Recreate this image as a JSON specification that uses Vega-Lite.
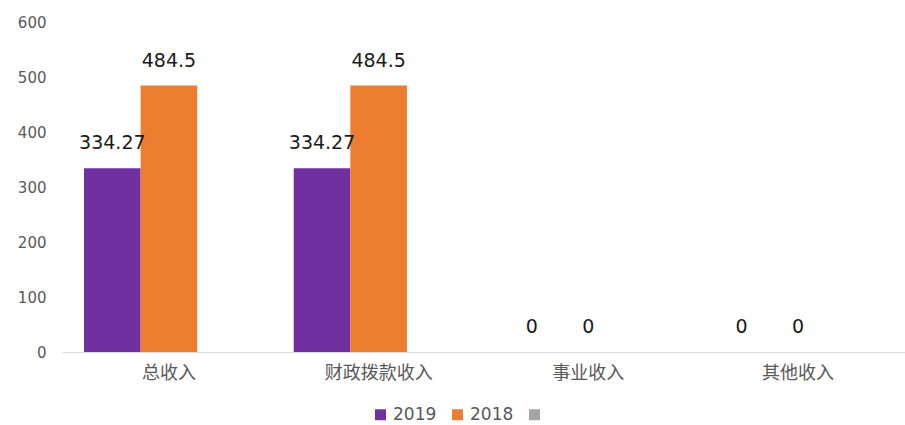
{
  "$schema": "https://vega.github.io/schema/vega-lite/v6.json",
  "autosize": "none",
  "width": 843,
  "height": 330,
  "padding": {"left": 62, "top": 22, "right": 0, "bottom": 73},
  "background": "white",
  "config": {
    "view": {"stroke": null},
    "font": "DejaVu Sans",
    "axis": {"labelFont": "DejaVu Sans, Noto Sans CJK SC", "labelColor": "#595959"}
  },
  "data": {
    "values": [
      {"category": "总收入", "year": "2019", "value": 334.27},
      {"category": "总收入", "year": "2018", "value": 484.5},
      {"category": "财政拨款收入", "year": "2019", "value": 334.27},
      {"category": "财政拨款收入", "year": "2018", "value": 484.5},
      {"category": "事业收入", "year": "2019", "value": 0},
      {"category": "事业收入", "year": "2018", "value": 0},
      {"category": "其他收入", "year": "2019", "value": 0},
      {"category": "其他收入", "year": "2018", "value": 0}
    ]
  },
  "encoding": {
    "x": {
      "field": "category", "type": "nominal", "sort": null,
      "scale": {"paddingInner": 0.19, "paddingOuter": 0.105},
      "axis": {"title": null, "labelAngle": 0, "ticks": false, "domainColor": "#D9D9D9", "labelFontSize": 18, "labelFont": "Noto Sans CJK SC", "labelPadding": 12}
    },
    "xOffset": {"field": "year", "type": "nominal", "sort": null, "scale": {"domain": ["2019", "2018", " "], "paddingInner": 0, "paddingOuter": 0}},
    "y": {
      "field": "value", "type": "quantitative",
      "scale": {"domain": [0, 600]},
      "axis": {"title": null, "grid": false, "domain": false, "ticks": false, "tickCount": 6, "labelFontSize": 15, "labelPadding": 16}
    }
  },
  "layer": [
    {
      "mark": {"type": "bar"},
      "encoding": {
        "color": {
          "field": "year", "type": "nominal",
          "scale": {"domain": ["2019", "2018", " "], "range": ["#7030A0", "#ED7D31", "#A5A5A5"]},
          "legend": {"title": null, "orient": "none", "legendX": 310, "legendY": 384, "direction": "horizontal", "symbolType": "square", "symbolSize": 120, "labelFontSize": 17, "labelColor": "#595959", "columnPadding": 12, "labelOffset": 4, "symbolOpacity": 1}
        }
      }
    },
    {
      "mark": {"type": "text", "baseline": "bottom", "dy": -15, "fontSize": 19, "color": "#1a1a1a", "font": "DejaVu Sans"},
      "encoding": {"text": {"field": "value", "type": "quantitative"}}
    }
  ]
}
